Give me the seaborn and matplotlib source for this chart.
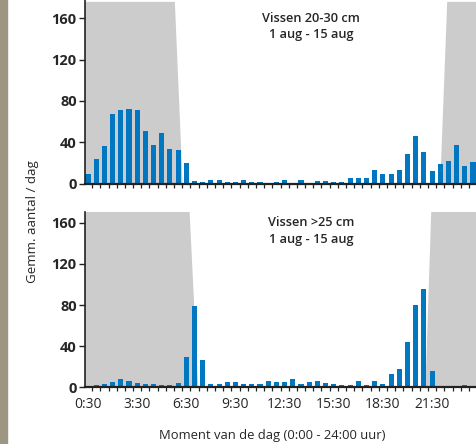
import matplotlib
matplotlib.use("Agg")
import matplotlib.pyplot as plt
import seaborn as sns
import pandas as pd

# ─── Data ────────────────────────────────────────────────────────────────────

times = [f"{(m // 60)}:{m % 60:02d}" for m in range(30, 24 * 60 + 1, 30)]

fish_20_30 = [
    9, 24, 36, 67, 71, 72, 71, 51, 37, 49, 33, 32,
    20, 2, 1, 3, 3, 1, 1, 3, 1, 1, 0, 1,
    3, 0, 3, 0, 2, 2, 1, 1, 5, 5, 5, 13,
    9, 9, 13, 29, 46, 31, 12, 19, 22, 37, 17, 21,
]
fish_gt_25 = [
    1.5, 2.5, 3.5, 5.5, 8, 6.5, 4.5, 3.5, 3.5, 2.5, 2.5, 4.5,
    30, 79, 27, 3.5, 3.5, 5.5, 5.5, 3.5, 3.5, 3.5, 6.5, 5.5,
    5.5, 8.5, 3.5, 5.5, 6.5, 4.5, 3.5, 2.5, 2.5, 6.5, 2.5, 6.5,
    3.5, 13, 18, 44, 80, 96, 16, 1.5, 1.5, 1.5, 2.5, 1.5,
]

panel_titles = ["Vissen 20-30 cm\n1 aug - 15 aug", "Vissen >25 cm\n1 aug - 15 aug"]
y_ticks = [0, 40, 80, 120, 160]
label_every = 6

# night shading (x in bar units, y in counts)
night_top = [
    [(-0.5, 0), (-0.5, 176), (10.6, 176), (11.55, 0)],
    [(43.0, 0), (43.85, 176), (48, 176), (48, 0)],
]
night_bottom = [
    [(-0.5, 0), (-0.5, 170.5), (12.4, 170.5), (13.45, 0)],
    [(41.2, 0), (41.9, 170.5), (48, 170.5), (48, 0)],
]

BLUE = "#0077c0"
GREY = "#cccccc"
FONT = ["Open Sans", "DejaVu Sans"]

# ─── Plot ────────────────────────────────────────────────────────────────────

sns.set_style("white")
plt.rcParams["font.family"] = FONT

fig = plt.figure(figsize=(4.77, 4.44), dpi=100)
ax_top = fig.add_axes([0.1782, 0.5867, 0.822, 0.4133])
ax_bot = fig.add_axes([0.1782, 0.1273, 0.822, 0.3959])

# left decorative strip
fig.patches.append(plt.Rectangle((0, 0), 7 / 477, 1, transform=fig.transFigure,
                                 color="#9c9682", zorder=0))

for ax, vals, polys, ymax, title in [
    (ax_top, fish_20_30, night_top, 177.8, panel_titles[0]),
    (ax_bot, fish_gt_25, night_bottom, 170.6, panel_titles[1]),
]:
    df = pd.DataFrame({"time": times, "count": vals})
    for poly in polys:
        ax.add_patch(plt.Polygon(poly, closed=True, facecolor=GREY,
                                 edgecolor="none", zorder=0))
    sns.barplot(data=df, x="time", y="count", order=times, color=BLUE,
                width=0.62, saturation=1, linewidth=0, edgecolor="none",
                ax=ax, zorder=2)

    ax.set_xlim(-0.37, 47.4)
    ax.set_ylim(0, ymax)
    ax.set_xlabel("")
    ax.set_ylabel("")

    ax.set_xticks(range(0, len(times), label_every))
    ax.set_xticklabels(times[::label_every] if ax is ax_bot else [])
    ax.set_xticks([i + 0.5 for i in range(len(times))], minor=True)
    ax.tick_params(axis="x", which="major", length=0, pad=7, labelsize=10)
    ax.tick_params(axis="x", which="minor", length=3, width=0.9,
                   direction="out", color="#222222", bottom=True)

    ax.set_yticks(y_ticks)
    ax.tick_params(axis="y", length=4, width=1, direction="out",
                   color="#222222", left=True, labelsize=10.5, pad=2)
    for lbl in ax.get_yticklabels():
        lbl.set_fontweight("bold")

    sns.despine(ax=ax, top=True, right=True)
    ax.spines["left"].set_color("#222222")
    ax.spines["left"].set_linewidth(1.2)
    ax.spines["bottom"].set_color("#222222")
    ax.spines["bottom"].set_linewidth(1.6)
    ax.spines["bottom"].set_zorder(3)

    ax.text(27.2, 152, title, ha="center", va="center", fontsize=9.2,
            fontweight="semibold", linespacing=1.35, zorder=4)

fig.text(0.0685, 0.5, "Gemm. aantal / dag", rotation=90, ha="center",
         va="center", fontsize=9.6)
fig.text(0.57, 0.02, "Moment van de dag (0:00 - 24:00 uur)", ha="center",
         va="center", fontsize=9.4)

fig.savefig("out.png", dpi=100)
plt.close(fig)
